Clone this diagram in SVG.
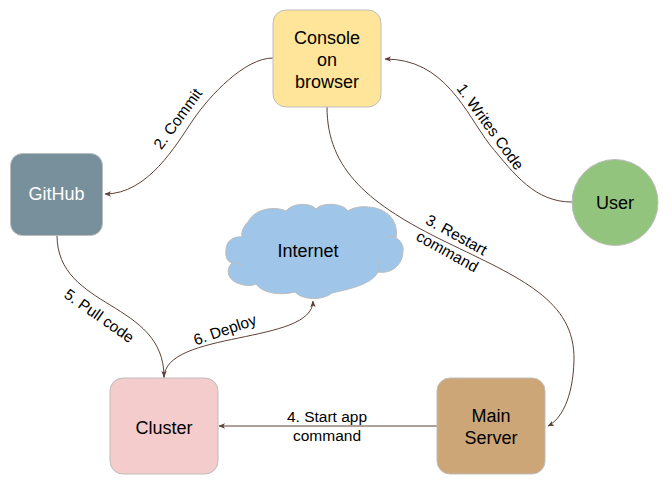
<svg xmlns="http://www.w3.org/2000/svg" width="672" height="484" viewBox="0 0 672 484">
<style>
.node{stroke:#bdbdbd;stroke-width:1}
.nl{font-family:"Liberation Sans",Arial,sans-serif;font-size:18px;fill:#000;text-anchor:middle}
.el{font-family:"Liberation Sans",Arial,sans-serif;font-size:15.5px;fill:#000;text-anchor:middle}
.edge{fill:none;stroke:#5d4037;stroke-width:1;marker-end:url(#ah)}
</style>
<defs>
<marker id="ah" markerWidth="8" markerHeight="7" refX="6" refY="3" orient="auto" markerUnits="userSpaceOnUse">
<path d="M0,0.3 L6.5,3 L0,5.7 L1.6,3 z" fill="#5d4037"/>
</marker>
</defs>
<rect width="672" height="484" fill="#fff"/>
<g id="edges">
<path class="edge" d="M572,202 C535,202 515,175 490,145 C465,112 445,59 385,59"/>
<path class="edge" d="M273,58 C245,58 210,95 193,120 C176,145 148,194 105,194"/>
<path class="edge" d="M327,107 C327,170 370,205 446,242 C520,278 575,300 574,360 C573,400 560,420 548,426"/>
<path class="edge" d="M437,426 L219,426"/>
<path class="edge" d="M57,235 C57,310 164,300 164,377"/>
<path class="edge" d="M164,378 C164,330 313,345 313,301"/>
</g>
<g id="edge-labels">
<text class="el" transform="translate(490,127) rotate(54)" y="5">1. Writes Code</text>
<text class="el" transform="translate(178,119) rotate(-54)" y="5">2. Commit</text>
<g transform="translate(452,243) rotate(29)">
<text class="el" y="-4">3. Restart</text>
<text class="el" y="15">command</text>
</g>
<text class="el" x="327" y="422">4. Start app</text>
<text class="el" x="327" y="441">command</text>
<text class="el" transform="translate(99,316) rotate(35)" y="5">5. Pull code</text>
<text class="el" transform="translate(225,330) rotate(-19)" y="5">6. Deploy</text>
</g>
<g id="console">
<rect class="node" x="273" y="10" width="108" height="97" rx="13" fill="#ffe599"/>
<text class="nl" x="327" y="44">Console</text>
<text class="nl" x="327" y="66">on</text>
<text class="nl" x="327" y="88">browser</text>
</g>
<g id="github">
<rect class="node" x="10.5" y="153.5" width="92" height="82" rx="12" fill="#78909c"/>
<text class="nl" x="56.5" y="200" fill="#fff" style="fill:#fff">GitHub</text>
</g>
<g id="user">
<circle class="node" cx="615" cy="202.5" r="43" fill="#93c47d"/>
<text class="nl" x="615" y="209">User</text>
</g>
<g id="internet">
<path class="node" fill="#9fc5e8" d="M242,237 C235,236 226,240 226,250 C225,258 228,262 232,263 C226,268 226,280 240,284 C246,286 252,286 256,284 C262,293 280,296 295,292 C302,300 322,301 332,293 C345,290 372,285 378,272 C388,274 402,268 403,252 C404,245 400,240 396,238 C399,222 388,208 368,207 C360,206 352,208 348,211 C343,203 322,202 316,209 C310,202 292,203 286,211 C276,206 255,208 248,222 C243,227 241,232 242,237 Z"/>
<path fill="none" stroke="#bdbdbd" stroke-width="1" d="M378,272 C380,268 380,264 377,260 M396,238 C393,236 390,236 387,237 M232,263 C236,262 239,263 241,265 M256,284 C255,281 255,279 256,277"/>
<text class="nl" x="308" y="257">Internet</text>
</g>
<g id="cluster">
<rect class="node" x="110" y="378" width="108" height="96" rx="13" fill="#f4cccc"/>
<text class="nl" x="164" y="434">Cluster</text>
</g>
<g id="main-server">
<rect class="node" x="437" y="378" width="108" height="96" rx="13" fill="#cca677"/>
<text class="nl" x="491" y="422">Main</text>
<text class="nl" x="491" y="444">Server</text>
</g>
</svg>
